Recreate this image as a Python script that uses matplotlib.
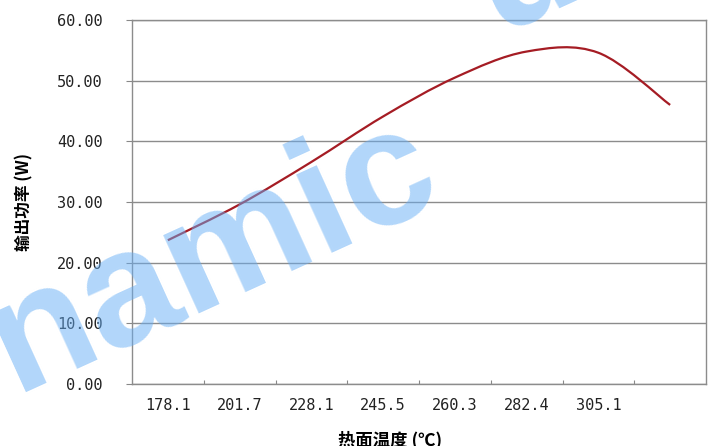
import numpy as np
import matplotlib.pyplot as plt
from matplotlib.path import Path
from matplotlib.patches import PathPatch

# hot-side temperature (categories) and output power
temps = ["178.1", "201.7", "228.1", "245.5", "260.3", "282.4", "305.1", ""]
power = [23.7, 29.6, 36.6, 44.1, 50.5, 54.8, 54.6, 46.0]
yticks = [0, 10, 20, 30, 40, 50, 60]

plt.rcParams["font.family"] = ["Noto Sans CJK SC", "DejaVu Sans"]


def smooth_path(xs, ys):
    """Bezier path through the points, like Excel's smoothed line."""
    pts = np.column_stack([xs, ys]).astype(float)
    ext = np.vstack([pts[0], pts, pts[-1]])
    verts = [pts[0]]
    codes = [Path.MOVETO]
    for i in range(len(pts) - 1):
        p0, p1, p2, p3 = ext[i], ext[i + 1], ext[i + 2], ext[i + 3]
        verts += [p1 + (p2 - p0) / 6, p2 - (p3 - p1) / 6, p2]
        codes += [Path.CURVE4] * 3
    return Path(verts, codes)


fig = plt.figure(figsize=(7.15, 4.46), dpi=100)
W, H = 715, 446
ax = fig.add_axes([132 / W, (H - 384) / H, (706 - 132) / W, (384 - 20) / H])

x = np.arange(len(power))
ax.add_patch(PathPatch(smooth_path(x, power), fill=False,
                       edgecolor="#a51c24", lw=1.6, zorder=3))

ax.set_xlim(-0.5, len(power) - 0.5)
ax.set_ylim(0, 60)

ax.set_yticks(yticks)
ax.set_yticklabels([f"{v:.2f}" for v in yticks], family="DejaVu Sans Mono",
                   fontsize=11, color="#222222")
ax.tick_params(axis="y", length=4, width=0.8, color="#888888", pad=17)

ax.set_xticks(x)
ax.set_xticklabels(temps, family="DejaVu Sans Mono", fontsize=11, color="#222222")
ax.tick_params(axis="x", length=0, pad=10)
ax.set_xticks(x[:-1] + 0.5, minor=True)
ax.tick_params(axis="x", which="minor", direction="in", length=3,
               width=0.8, color="#888888")

ax.grid(axis="y", color="#8c8c8c", lw=1.0)
ax.set_axisbelow(True)
for s in ax.spines.values():
    s.set_color("#8c8c8c")
    s.set_linewidth(1.0)

fig.text(24 / W, 1 - 202 / H, "输出功率 (W)", rotation=90, ha="center",
         va="center", fontsize=12, fontweight="bold")
fig.text(390 / W, 1 - 431 / H, "热面温度 (℃)", ha="center", va="top",
         fontsize=12.5, fontweight="bold")

# watermark
wm = dict(rotation=24.5, rotation_mode="anchor", ha="left", va="baseline",
          fontsize=118, fontweight="bold", family="Liberation Sans",
          color="#66aef5", alpha=0.5, zorder=10)
fig.text(15 / W, 1 - 392 / H, "namic", **wm)
fig.text(497 / W, 1 - 32 / H, "u", **wm)

fig.savefig("out.png", dpi=100)
